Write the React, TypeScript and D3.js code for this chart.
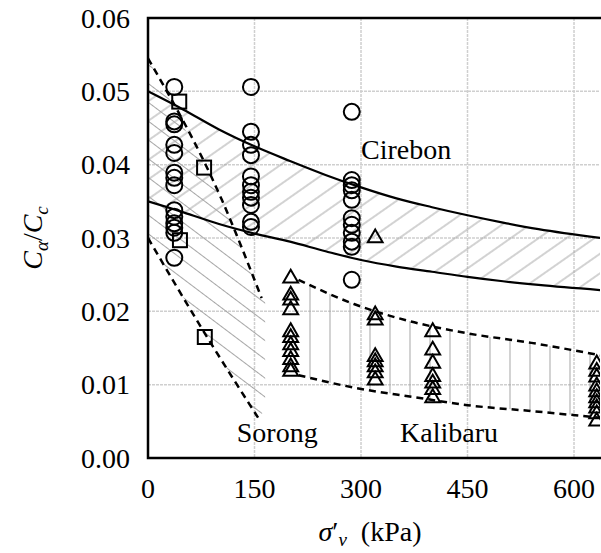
import React, { useEffect, useRef } from "react";
import * as d3 from "d3";

// tick labels
const xTicks = [0, 150, 300, 450, 600];
const yTicks = [0, 0.01, 0.02, 0.03, 0.04, 0.05, 0.06];

// Cirebon circles, one column per loading step
const cirebonStress = [37, 145, 287];
const cirebonCol1 = [0.0506, 0.0459, 0.0455, 0.0427, 0.0416, 0.0389, 0.0382, 0.0372, 0.0338, 0.0329, 0.032, 0.0314, 0.0307, 0.0273];
const cirebonCol2 = [0.0506, 0.0445, 0.0427, 0.0413, 0.0384, 0.0372, 0.0363, 0.0355, 0.0345, 0.0322, 0.0315];
const cirebonCol3 = [0.0472, 0.0379, 0.0372, 0.0365, 0.0352, 0.0327, 0.0318, 0.0307, 0.0295, 0.0288, 0.0243];

// Sorong squares
const sorongStress = [44, 79, 45, 80];
const sorongRatio = [0.0486, 0.0396, 0.0297, 0.0165];

// Kalibaru triangles
const kalibaruStress = [201, 320, 401, 632];
const kal201 = [0.0245, 0.0222, 0.0215, 0.0202, 0.0172, 0.0164, 0.0154, 0.0145, 0.0134, 0.0124, 0.0118];
const kal320 = [0.03, 0.0195, 0.0188, 0.0138, 0.0131, 0.0124, 0.0116, 0.0106];
const kal401 = [0.0172, 0.0147, 0.0129, 0.0111, 0.0102, 0.0093, 0.0082];
const kal632 = [0.0128, 0.0118, 0.011, 0.0098, 0.009, 0.0082, 0.0075, 0.0068, 0.006, 0.005];

// Cirebon band (solid curves)
const cirebonBandX = [0, 50, 100, 150, 200, 250, 300, 350, 400, 450, 500, 550, 637];
const cirebonUpper = [0.05, 0.0475, 0.0448, 0.0425, 0.0405, 0.0386, 0.0369, 0.0354, 0.0342, 0.0331, 0.0321, 0.0312, 0.03];
const cirebonLower = [0.035, 0.0335, 0.0319, 0.0306, 0.0295, 0.0282, 0.027, 0.0261, 0.0254, 0.0247, 0.0241, 0.0236, 0.0229];

// Sorong band (dashed)
const sorongUpperX = [0, 104, 160];
const sorongUpperY = [0.0545, 0.0352, 0.0218];
const sorongLowerX = [0, 80, 155];
const sorongLowerY = [0.03, 0.017, 0.0055];
const sorongHatchEdgeX = [165, 165];
const sorongHatchEdgeY = [0.0215, 0.0065];

// Kalibaru band (dashed)
const kalibaruBandX = [212, 290, 375, 450, 540, 637];
const kalibaruUpper = [0.0243, 0.021, 0.0185, 0.017, 0.0157, 0.014];
const kalibaruLower = [0.0113, 0.0096, 0.0083, 0.0072, 0.0064, 0.0055];

const serif = "Liberation Serif, Times New Roman, DejaVu Serif, serif";

const App = () => {
    const ref = useRef(null);

    useEffect(() => {
        document.body.style.margin = "0";
        const svg = d3.select(ref.current);
        svg.selectAll("*").remove();

        const left = 148, right = 600, top = 18, bottom = 458;
        const x = d3.scaleLinear().domain([0, 636.6]).range([left, right]);
        const y = d3.scaleLinear().domain([0, 0.06]).range([bottom, top]);

        const defs = svg.append("defs");
        const hatch = (id, size, angle) => {
            const p = defs
                .append("pattern")
                .attr("id", id)
                .attr("patternUnits", "userSpaceOnUse")
                .attr("width", size)
                .attr("height", size)
                .attr("patternTransform", `rotate(${angle})`);
            p.append("line")
                .attr("x1", 0)
                .attr("x2", size)
                .attr("y1", size / 2)
                .attr("y2", size / 2)
                .attr("stroke", "#a6a6a6")
                .attr("stroke-width", 1);
        };
        hatch("hatchCirebon", 16, -35);
        hatch("hatchSorong", 15, 37);
        hatch("hatchKalibaru", 20, 90);

        defs.append("clipPath").attr("id", "plotClip")
            .append("rect")
            .attr("x", left).attr("y", top)
            .attr("width", right - left).attr("height", bottom - top);

        // grid
        const grid = svg.append("g").attr("stroke", "#cfcfcf").attr("stroke-width", 1.5).attr("stroke-dasharray", "3,1");
        xTicks.forEach((t) => {
            grid.append("line").attr("x1", x(t)).attr("x2", x(t)).attr("y1", top).attr("y2", bottom);
        });
        yTicks.forEach((t) => {
            grid.append("line").attr("x1", left).attr("x2", right).attr("y1", y(t)).attr("y2", y(t));
        });

        const plot = svg.append("g").attr("clip-path", "url(#plotClip)");

        // hatched areas
        const cirebonPts = cirebonBandX.map((v, i) => ({ x: v, y0: cirebonLower[i], y1: cirebonUpper[i] }));
        const kalPts = kalibaruBandX.map((v, i) => ({ x: v, y0: kalibaruLower[i], y1: kalibaruUpper[i] }));
        const area = d3.area()
            .x((d) => x(d.x))
            .y0((d) => y(d.y0))
            .y1((d) => y(d.y1))
            .curve(d3.curveMonotoneX);
        plot.append("path").datum(cirebonPts).attr("d", area).attr("fill", "url(#hatchCirebon)");
        plot.append("path").datum(kalPts).attr("d", area).attr("fill", "url(#hatchKalibaru)");

        const sorongPoly = [
            ...sorongUpperX.map((v, i) => [v, sorongUpperY[i]]),
            ...sorongHatchEdgeX.map((v, i) => [v, sorongHatchEdgeY[i]]),
            ...sorongLowerX.map((v, i) => [v, sorongLowerY[i]]).reverse(),
        ];
        plot.append("path")
            .attr("d", d3.line().x((d) => x(d[0])).y((d) => y(d[1]))(sorongPoly) + "Z")
            .attr("fill", "url(#hatchSorong)");

        // boundary curves
        const curve = d3.line().x((d) => x(d[0])).y((d) => y(d[1])).curve(d3.curveMonotoneX);
        const drawLine = (xs, ys, dashed) => {
            plot.append("path")
                .attr("d", curve(xs.map((v, i) => [v, ys[i]])))
                .attr("fill", "none")
                .attr("stroke", "black")
                .attr("stroke-width", dashed ? 2.5 : 2.2)
                .attr("stroke-dasharray", dashed ? "7,5" : null);
        };
        drawLine(cirebonBandX, cirebonUpper, false);
        drawLine(cirebonBandX, cirebonLower, false);
        drawLine(sorongUpperX, sorongUpperY, true);
        drawLine(sorongLowerX, sorongLowerY, true);
        drawLine(kalibaruBandX, kalibaruUpper, true);
        drawLine(kalibaruBandX, kalibaruLower, true);

        // markers
        const marks = plot.append("g").attr("fill", "none").attr("stroke", "black").attr("stroke-width", 2);
        [cirebonCol1, cirebonCol2, cirebonCol3].forEach((col, c) => {
            col.forEach((v) => {
                marks.append("circle").attr("cx", x(cirebonStress[c])).attr("cy", y(v)).attr("r", 8);
            });
        });
        sorongStress.forEach((s, i) => {
            marks.append("rect")
                .attr("x", x(s) - 7).attr("y", y(sorongRatio[i]) - 7)
                .attr("width", 14).attr("height", 14);
        });
        const tri = d3.symbol().type(d3.symbolTriangle).size(95);
        [kal201, kal320, kal401, kal632].forEach((col, c) => {
            col.forEach((v) => {
                marks.append("path")
                    .attr("d", tri())
                    .attr("transform", `translate(${x(kalibaruStress[c])},${y(v)})`);
            });
        });

        // frame
        svg.append("rect")
            .attr("x", left).attr("y", top)
            .attr("width", right - left + 4).attr("height", bottom - top)
            .attr("fill", "none").attr("stroke", "black").attr("stroke-width", 2.5);

        // tick labels
        const labels = svg.append("g").attr("font-family", serif).attr("font-size", 28).attr("fill", "black");
        xTicks.forEach((t) => {
            labels.append("text").attr("x", x(t)).attr("y", 498).attr("text-anchor", "middle").text(t);
        });
        yTicks.forEach((t) => {
            labels.append("text").attr("x", 130).attr("y", y(t)).attr("dy", "0.35em").attr("text-anchor", "end").text(t.toFixed(2));
        });

        // region names
        labels.append("text").attr("x", x(300)).attr("y", y(0.0408)).text("Cirebon");
        labels.append("text").attr("x", x(125)).attr("y", y(0.0022)).text("Sorong");
        labels.append("text").attr("x", x(355)).attr("y", y(0.0022)).text("Kalibaru");

        // axis titles
        const yt = labels.append("text")
            .attr("transform", "translate(42,238) rotate(-90)")
            .attr("text-anchor", "middle");
        yt.append("tspan").attr("font-style", "italic").text("C");
        yt.append("tspan").attr("font-style", "italic").attr("font-size", 19).attr("dy", 6).text("α");
        yt.append("tspan").attr("dy", -6).text("/");
        yt.append("tspan").attr("font-style", "italic").text("C");
        yt.append("tspan").attr("font-style", "italic").attr("font-size", 19).attr("dy", 6).text("c");

        const xt = labels.append("text").attr("x", 370).attr("y", 541).attr("text-anchor", "middle");
        xt.append("tspan").attr("font-style", "italic").text("σ");
        xt.append("tspan").text("′");
        xt.append("tspan").attr("font-style", "italic").attr("font-size", 19).attr("dy", 5).text("v");
        xt.append("tspan").attr("dy", -5).text("\u00a0\u00a0(kPa)");
    }, []);

    return <svg ref={ref} width={601} height={553} style={{ display: "block", background: "white" }} />;
};

export default App;
